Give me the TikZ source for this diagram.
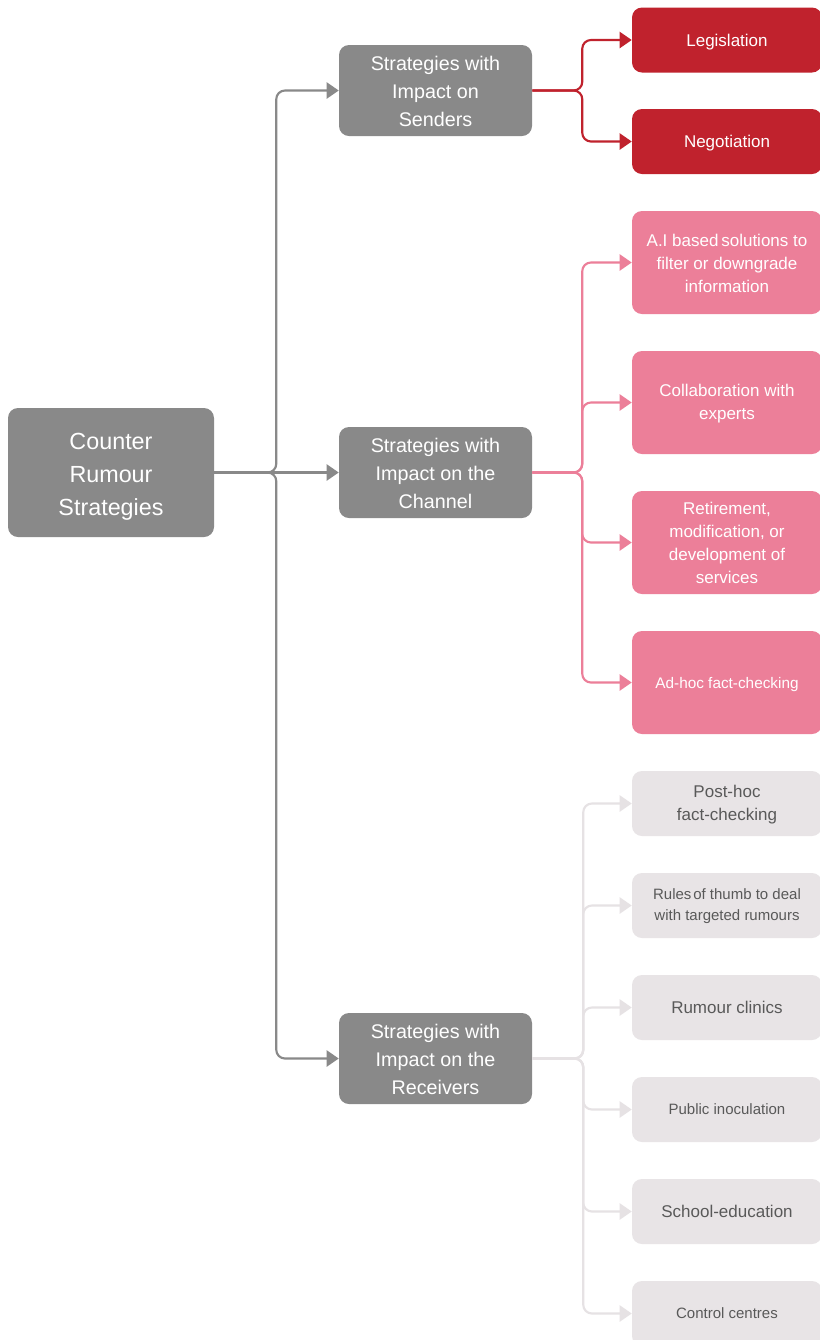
\documentclass[tikz,border=0pt]{standalone}
\usepackage{fontspec}
\setmainfont{Liberation Sans}
\usetikzlibrary{arrows.meta}

\definecolor{hubgray}{HTML}{898989}
\definecolor{sendred}{HTML}{C0222D}
\definecolor{chanpink}{HTML}{EC7F99}
\definecolor{recvfill}{HTML}{E8E4E6}
\definecolor{recvline}{HTML}{E6E2E4}
\definecolor{recvtext}{HTML}{595959}

% strut that raises the top of the first line of a block
\newcommand{\topstrut}[1]{\rule{0pt}{#1}}

\tikzset{
  box/.style={rounded corners=7.5pt, align=center, inner sep=0pt},
  rootbox/.style={box, fill=hubgray, text=white, minimum width=154.5pt,
    minimum height=96.75pt, font=\fontsize{17.5}{24.75}\selectfont},
  midbox/.style={box, fill=hubgray, text=white, minimum width=144.75pt,
    minimum height=68.25pt, font=\fontsize{14.8}{21}\selectfont},
  sendbox/.style={box, fill=sendred, text=white, minimum width=142.5pt,
    minimum height=48.75pt, font=\fontsize{12.75}{17.25}\selectfont},
  chanbox/.style={box, fill=chanpink, text=white, minimum width=142.5pt,
    minimum height=77.25pt, font=\fontsize{12.75}{17.25}\selectfont},
  recvbox/.style={box, fill=recvfill, text=recvtext, minimum width=142.5pt,
    minimum height=48.75pt, font=\fontsize{12.75}{17.25}\selectfont},
  small/.style={font=\fontsize{11.25}{15.75}\selectfont},
  % single line labels centred on their capitals
  oneline/.style={text height=#1, text depth=0pt},
  oneline/.default=9.3pt,
  link/.style={line width=1.6pt, rounded corners=6.5pt,
    -{Triangle[length=9pt,width=12pt]}},
}

\begin{document}
\begin{tikzpicture}[x=0.75pt, y=-0.75pt]
  \useasboundingbox (0,0) rectangle (820,1340);
  \fill[white] (0,0) rectangle (820,1340);

  % root and the three strategy groups
  \node[rootbox] (root) at (111,472.5) {\topstrut{18pt}Counter\\Rumour\\Strategies};
  \node[midbox] (send) at (435.5,90.5) {\topstrut{12.3pt}Strategies with\\Impact on\\Senders};
  \node[midbox] (chan) at (435.5,472.5) {\topstrut{12.3pt}Strategies with\\Impact on the\\Channel};
  \node[midbox] (recv) at (435.5,1058.5) {\topstrut{12.3pt}Strategies with\\Impact on the\\Receivers};

  % senders
  \node[sendbox, oneline] (legis) at (727,40) {Legislation};
  \node[sendbox, oneline] (nego) at (727,141.5) {Negotiation};

  % channel
  \node[chanbox] (ai) at (727,262.5) {\topstrut{10.5pt}A.I based\,solutions to\\filter or downgrade\\information};
  \node[chanbox] (collab) at (727,402.5) {\topstrut{10.5pt}Collaboration with\\experts};
  \node[chanbox] (retire) at (727,542.5) {\topstrut{10.5pt}Retirement,\\modification, or\\development of\\services};
  \node[chanbox, font=\fontsize{11.5}{17.25}\selectfont, oneline=8.4pt] (adhoc) at (727,682.5) {Ad-hoc fact-checking};

  % receivers
  \node[recvbox] (posthoc) at (727,803.5) {\topstrut{10.5pt}Post-hoc\\fact-checking};
  \node[recvbox, small] (rules) at (727,905.5) {\topstrut{9.2pt}Rules\hspace{0.12em}of thumb to deal\\with targeted rumours};
  \node[recvbox, oneline] (clinic) at (727,1007.5) {Rumour clinics};
  \node[recvbox, small, oneline=8.2pt] (inoc) at (727,1109.5) {Public inoculation};
  \node[recvbox, oneline] (school) at (727,1211.5) {School-education};
  \node[recvbox, small, oneline=8.2pt] (control) at (727,1313.5) {Control centres};

  % root connectors
  \draw[link, hubgray] (root.east) -- ++(62,0) |- (send.west);
  \draw[link, hubgray] (root.east) -- (chan.west);
  \draw[link, hubgray] (root.east) -- ++(62,0) |- (recv.west);

  % senders connectors
  \foreach \leaf in {legis, nego}
    \draw[link, sendred] (send.east) -- ++(50,0) |- (\leaf.west);

  % channel connectors
  \foreach \leaf in {ai, collab, retire, adhoc}
    \draw[link, chanpink] (chan.east) -- ++(50,0) |- (\leaf.west);

  % receivers connectors
  \foreach \leaf in {posthoc, rules, clinic, inoc, school, control}
    \draw[link, recvline] (recv.east) -- ++(51,0) |- (\leaf.west);
\end{tikzpicture}
\end{document}
